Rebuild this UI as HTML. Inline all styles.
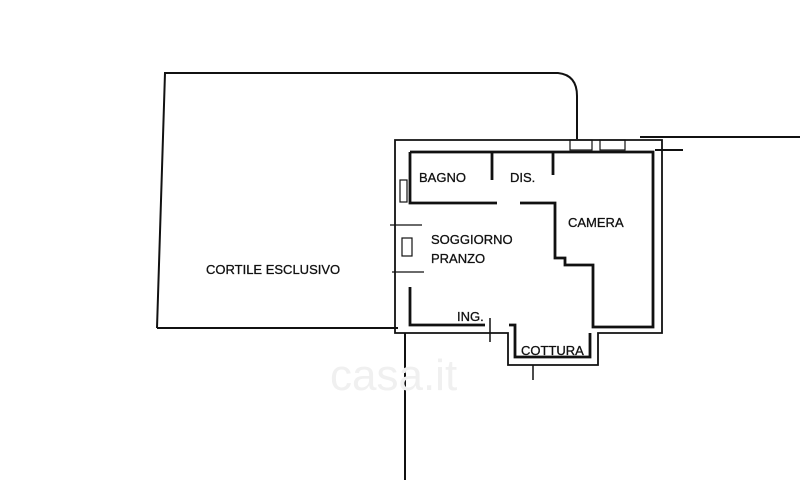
<!DOCTYPE html>
<html><head><meta charset="utf-8"><style>
html,body{margin:0;padding:0;background:#fff;width:800px;height:480px;overflow:hidden}
text{font-family:"Liberation Sans",sans-serif;font-size:13px;fill:#111;stroke:#111;stroke-width:0.3}
</style></head><body>
<svg width="800" height="480" viewBox="0 0 800 480" xmlns="http://www.w3.org/2000/svg">
<g fill="none" stroke="#111" stroke-width="2">
<path d="M157 328 L165 73 L558 73 Q577 75 577 96 L577 139"/>
<line x1="157" y1="328" x2="398" y2="328"/>
<line x1="405" y1="333" x2="405" y2="480"/>
<line x1="640" y1="137" x2="800" y2="137"/>
<path d="M395 140 L662 140 L662 333 L598 333 L598 365 L508 365 L508 333 L404 333 L395 333 Z" stroke-width="1.8"/>
<path d="M655 150 L683 150" />
<path d="M410 152 L653 152 L653 327 L593 327 L593 265 L565 265 L565 258 L555 258 L555 203 L520 203" stroke-width="2.8"/>
<path d="M410 152 L410 203 L497 203" stroke-width="2.8"/>
<path d="M410 287 L410 325 L485 325" stroke-width="2.8"/>
<path d="M509 325 L515 325 L515 357 L590 357 L590 333" stroke-width="2.8"/>
<line x1="492" y1="152" x2="492" y2="180" stroke-width="2.8"/>
<line x1="553" y1="152" x2="553" y2="175" stroke-width="2.8"/>
<line x1="490" y1="318" x2="490" y2="342" stroke-width="1.5"/>
<rect x="400" y="180" width="7" height="22" stroke-width="1.2"/>
<rect x="402" y="238" width="10" height="18" stroke-width="1.2"/>
<line x1="390" y1="225" x2="422" y2="225" stroke-width="1.2"/>
<line x1="392" y1="272" x2="424" y2="272" stroke-width="1.2"/>
<rect x="570" y="140" width="22" height="10" stroke-width="1.2"/>
<rect x="600" y="140" width="25" height="10" stroke-width="1.2"/>
<line x1="533" y1="365" x2="533" y2="380" stroke-width="1.5"/>
</g>
<text x="419" y="182">BAGNO</text>
<text x="510" y="182">DIS.</text>
<text x="568" y="227">CAMERA</text>
<text x="431" y="244">SOGGIORNO</text>
<text x="431" y="263">PRANZO</text>
<text x="206" y="274">CORTILE ESCLUSIVO</text>
<text x="457" y="321">ING.</text>
<text x="521" y="355">COTTURA</text>
<text x="330" y="390" style="font-size:44px;fill:#f0f0f0;stroke:none">casa.it</text>
</svg>
</body></html>
